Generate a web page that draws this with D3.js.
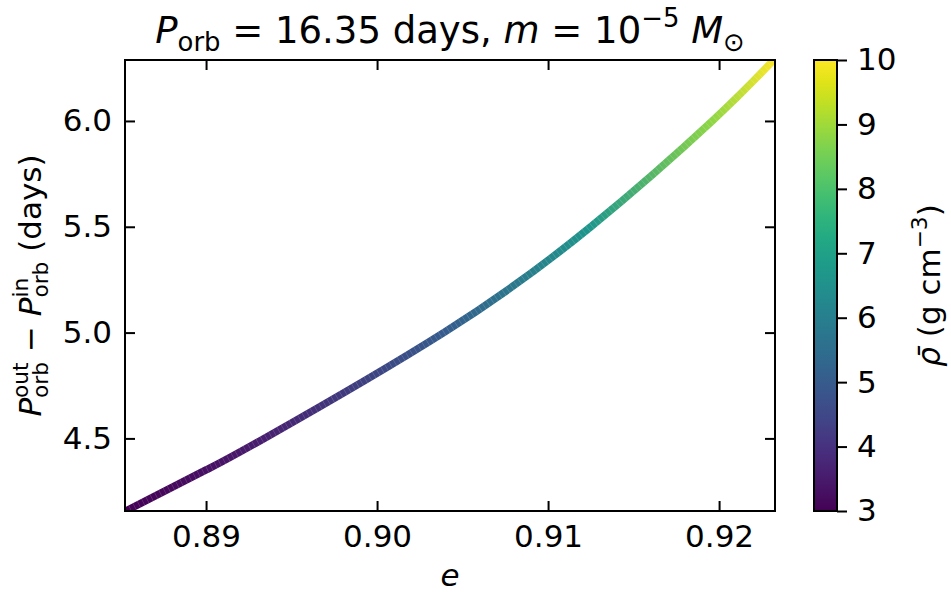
<!DOCTYPE html>
<html>
<head>
<meta charset="utf-8">
<script src="https://cdn.jsdelivr.net/npm/d3@7"></script>
<style>
  body { margin: 0; background: #fff; }
  svg { display: block; font-family: "DejaVu Sans", sans-serif; }
  text { white-space: pre; }
</style>
</head>
<body>
<div id="chart"></div>
<script>
// values
var eccentricity = [0.8853, 0.8900, 0.8934, 0.9039, 0.9125, 0.9196, 0.9233];
var deltaP       = [4.157, 4.351, 4.500, 5.000, 5.500, 6.000, 6.297];
var density      = [3.0, 3.3, 3.6, 5.0, 6.7, 8.8, 10.0];

var xTicks = [0.89, 0.90, 0.91, 0.92];
var yTicks = [4.5, 5.0, 5.5, 6.0];
var cbTicks = [3, 4, 5, 6, 7, 8, 9, 10];

var xDomain = [0.88526, 0.92327];
var yDomain = [4.157, 6.288];
var cbDomain = [3, 10];

var width = 951, height = 596;
var margin = {top: 60, left: 125};
var chartWidth = 650, chartHeight = 451;
var fontSize = 31;

var svg = d3.select('#chart').append('svg')
    .attr('width', width)
    .attr('height', height);

var g = svg.append('g')
    .attr('transform', `translate(${margin.left}, ${margin.top})`);

var xScale = d3.scaleLinear().domain(xDomain).range([0, chartWidth]);
var yScale = d3.scaleLinear().domain(yDomain).range([chartHeight, 0]);
var colorScale = d3.scaleSequential(d3.interpolateViridis).domain(cbDomain);

// little mathtext-like helper: italic letters, sub/superscripts, stacked scripts
function mathLabel(parent, parts, size) {
  var grp = parent.append('g');
  var x = 0;
  parts.forEach(function(p) {
    if (p.stack) {
      var a = grp.append('text').attr('x', x).attr('y', -0.42 * size)
        .attr('font-size', size * 0.7).text(p.stack[0]);
      var b = grp.append('text').attr('x', x).attr('y', 0.24 * size)
        .attr('font-size', size * 0.7).text(p.stack[1]);
      x += Math.max(a.node().getComputedTextLength(), b.node().getComputedTextLength());
      return;
    }
    var s = size, y = 0;
    if (p.sub) { s = size * 0.7; y = 0.22 * size; }
    if (p.sup) { s = size * 0.7; y = -0.42 * size; }
    var t = grp.append('text').attr('x', x).attr('y', y)
      .attr('font-size', s)
      .attr('font-style', p.it ? 'italic' : 'normal')
      .text(p.s);
    x += t.node().getComputedTextLength();
  });
  grp.selectAll('text').attr('x', function() { return +d3.select(this).attr('x') - x / 2; });
  return grp;
}

// the curve, coloured along e by density
var defs = svg.append('defs');
var x0 = xScale(eccentricity[0]), x1 = xScale(eccentricity[eccentricity.length - 1]);
var grad = defs.append('linearGradient')
    .attr('id', 'curveGrad')
    .attr('gradientUnits', 'userSpaceOnUse')
    .attr('x1', x0).attr('x2', x1)
    .attr('y1', 0).attr('y2', 0);
eccentricity.forEach(function(e, i) {
  grad.append('stop')
    .attr('offset', (xScale(e) - x0) / (x1 - x0))
    .attr('stop-color', colorScale(density[i]));
});

var points = eccentricity.map(function(e, i) { return [e, deltaP[i]]; });
var line = d3.line()
    .x(function(d) { return xScale(d[0]); })
    .y(function(d) { return yScale(d[1]); })
    .curve(d3.curveNatural);

defs.append('clipPath').attr('id', 'plotClip')
  .append('rect').attr('width', chartWidth).attr('height', chartHeight);

var plot = g.append('g').attr('clip-path', 'url(#plotClip)');
plot.append('path')
    .datum(points)
    .attr('d', line)
    .attr('fill', 'none')
    .attr('stroke', 'url(#curveGrad)')
    .attr('stroke-width', 7.5);
plot.append('path')
    .datum(points)
    .attr('d', line)
    .attr('fill', 'none')
    .attr('stroke', '#fff')
    .attr('stroke-opacity', 0.22)
    .attr('stroke-dasharray', '0.6,4.2')
    .attr('stroke-width', 7.5);

// axes, ticks inward on all four sides
function styleAxis(sel) {
  sel.select('.domain').remove();
  sel.selectAll('.tick line').attr('stroke', '#000').attr('stroke-width', 2);
  sel.selectAll('.tick text').attr('font-size', fontSize)
    .attr('font-family', '"DejaVu Sans", sans-serif').attr('fill', '#000');
}

g.append('g')
    .attr('transform', `translate(0,${chartHeight})`)
    .call(d3.axisBottom(xScale).tickValues(xTicks).tickSize(-10).tickPadding(14).tickFormat(d3.format('.2f')))
    .call(styleAxis);
g.append('g')
    .call(d3.axisTop(xScale).tickValues(xTicks).tickSize(-10).tickFormat(''))
    .call(styleAxis);
g.append('g')
    .call(d3.axisLeft(yScale).tickValues(yTicks).tickSize(-10).tickPadding(13).tickFormat(d3.format('.1f')))
    .call(styleAxis);
g.append('g')
    .attr('transform', `translate(${chartWidth},0)`)
    .call(d3.axisRight(yScale).tickValues(yTicks).tickSize(-10).tickFormat(''))
    .call(styleAxis);

g.append('rect')
    .attr('width', chartWidth).attr('height', chartHeight)
    .attr('fill', 'none').attr('stroke', '#000').attr('stroke-width', 2);

// colorbar
var cbX = 814, cbW = 23;
var cbScale = d3.scaleLinear().domain(cbDomain).range([margin.top + chartHeight, margin.top]);
var cbGrad = defs.append('linearGradient')
    .attr('id', 'cbGrad')
    .attr('x1', 0).attr('x2', 0).attr('y1', 1).attr('y2', 0);
d3.range(0, 1.0001, 0.05).forEach(function(t) {
  cbGrad.append('stop').attr('offset', t).attr('stop-color', d3.interpolateViridis(t));
});
svg.append('rect')
    .attr('x', cbX).attr('y', margin.top)
    .attr('width', cbW).attr('height', chartHeight)
    .attr('fill', 'url(#cbGrad)');
svg.append('g')
    .attr('transform', `translate(${cbX + cbW},0)`)
    .call(d3.axisRight(cbScale).tickValues(cbTicks).tickSize(10).tickPadding(10).tickFormat(d3.format('d')))
    .call(styleAxis);
svg.append('rect')
    .attr('x', cbX).attr('y', margin.top)
    .attr('width', cbW).attr('height', chartHeight)
    .attr('fill', 'none').attr('stroke', '#000').attr('stroke-width', 2);

// title and labels
mathLabel(svg, [
  {s: 'P', it: true}, {s: 'orb', sub: true}, {s: ' = 16.35 days, '},
  {s: 'm', it: true}, {s: ' = 10'}, {s: '\u22125', sup: true}, {s: ' '},
  {s: 'M', it: true}, {s: '\u2299', sub: true}
], 37).attr('transform', `translate(${margin.left + chartWidth / 2}, 43)`);

mathLabel(svg, [{s: 'e', it: true}], fontSize)
    .attr('transform', `translate(${margin.left + chartWidth / 2}, 586)`);

mathLabel(svg, [
  {s: 'P', it: true}, {stack: ['out', 'orb']}, {s: ' \u2212 '},
  {s: 'P', it: true}, {stack: ['in', 'orb']}, {s: ' (days)'}
], fontSize).attr('transform', `translate(41, ${margin.top + chartHeight / 2}) rotate(-90)`);

mathLabel(svg, [
  {s: '\u03c1\u0304', it: true}, {s: ' (g cm'}, {s: '\u22123', sup: true}, {s: ')'}
], fontSize).attr('transform', `translate(940, ${margin.top + chartHeight / 2}) rotate(-90)`);
</script>
</body>
</html>
